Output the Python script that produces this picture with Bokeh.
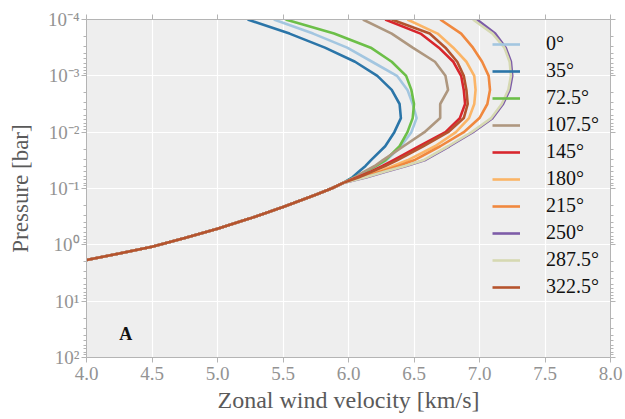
import numpy as np
from bokeh.plotting import figure
from bokeh.models import Range1d, FixedTicker, CustomJSTickFormatter, LinearAxis, LogAxis, Label
from bokeh.embed import file_html
from bokeh.resources import INLINE

# ---- data -------------------------------------------------------------
# log10 pressure [bar] of the upper levels, where the profiles differ
logp_upper = [-4.0, -3.75, -3.5, -3.25, -3.0, -2.75, -2.5, -2.25, -2.0, -1.75,
              -1.5, -1.4, -1.3, -1.2]
# log10 pressure [bar] of the deep levels, where all profiles coincide
logp_lower = [-1.1, -1.0, -0.89, -0.67, -0.47, -0.285, -0.12, 0.035, 0.155, 0.27]
v_lower = [5.96, 5.87, 5.75, 5.50, 5.25, 5.00, 4.75, 4.50, 4.25, 4.00]

longitudes = ["0°", "35°", "72.5°", "107.5°", "145°", "180°", "215°", "250°", "287.5°", "322.5°"]
colors = ["#a3c6e0", "#2b75a8", "#6cbf48", "#ae977f", "#d8262d",
          "#fbb466", "#f0883e", "#7d5ca8", "#d6d9b2", "#b5532d"]

# zonal wind velocity [km/s] at logp_upper, one list per longitude
v_0 = [5.43, 5.73, 5.99, 6.18, 6.37, 6.45, 6.49, 6.52, 6.48, 6.40, 6.29, 6.22, 6.15, 6.06]
v_35 = [5.23, 5.55, 5.82, 6.05, 6.22, 6.33, 6.39, 6.40, 6.35, 6.28, 6.17, 6.13, 6.08, 6.03]
v_72_5 = [5.52, 5.89, 6.17, 6.33, 6.44, 6.48, 6.50, 6.49, 6.45, 6.39, 6.28, 6.21, 6.13, 6.05]
v_107_5 = [6.11, 6.33, 6.49, 6.66, 6.74, 6.76, 6.70, 6.70, 6.58, 6.42, 6.26, 6.20, 6.12, 6.05]
v_145 = [6.28, 6.55, 6.69, 6.80, 6.86, 6.88, 6.89, 6.85, 6.74, 6.54, 6.34, 6.26, 6.17, 6.07]
v_180 = [6.45, 6.68, 6.80, 6.90, 6.96, 6.97, 6.96, 6.92, 6.82, 6.66, 6.45, 6.34, 6.23, 6.10]
v_215 = [6.70, 6.86, 6.95, 7.02, 7.07, 7.08, 7.06, 7.00, 6.88, 6.70, 6.50, 6.38, 6.25, 6.11]
v_250 = [6.98, 7.12, 7.20, 7.24, 7.25, 7.23, 7.18, 7.10, 6.95, 6.77, 6.58, 6.44, 6.29, 6.14]
v_287_5 = [6.95, 7.10, 7.19, 7.23, 7.24, 7.22, 7.17, 7.09, 6.94, 6.76, 6.57, 6.43, 6.28, 6.13]
v_322_5 = [6.33, 6.62, 6.74, 6.83, 6.88, 6.90, 6.91, 6.88, 6.76, 6.57, 6.37, 6.28, 6.18, 6.08]
upper_profiles = [v_0, v_35, v_72_5, v_107_5, v_145, v_180, v_215, v_250, v_287_5, v_322_5]

xtick_vals = [4.0, 4.5, 5.0, 5.5, 6.0, 6.5, 7.0, 7.5, 8.0]
xtick_labels = ["4.0", "4.5", "5.0", "5.5", "6.0", "6.5", "7.0", "7.5", "8.0"]
ytick_vals = [1e-4, 1e-3, 1e-2, 1e-1, 1e0, 1e1, 1e2]
ytick_labels = ["10⁻⁴", "10⁻³", "10⁻²", "10⁻¹", "10⁰", "10¹", "10²"]

# ---- style -------------------------------------------------------------
SERIF = "'Liberation Serif', serif"
SPINE = "#b4b4b4"
TICK_TEXT = "#939393"
LABEL_TEXT = "#5a5a5a"

p = figure(width=625, height=419,
           x_range=Range1d(4.0, 8.0), y_range=Range1d(1e2, 1e-4),
           y_axis_type="log",
           output_backend="svg", toolbar_location=None,
           min_border_left=86, min_border_right=15,
           min_border_top=19, min_border_bottom=62,
           background_fill_color="#eeeeee", border_fill_color="white",
           outline_line_color=None)

pressure = 10.0 ** np.array(logp_upper + logp_lower)
for label, color, v_up in zip(longitudes, colors, upper_profiles):
    p.line(x=v_up + v_lower, y=pressure, line_color=color, line_width=2.6,
           legend_label=label)

# tickers
x_ticker = FixedTicker(ticks=xtick_vals)
y_minor = [m * 10.0 ** e for e in range(-4, 2) for m in range(2, 10)]
y_ticker = FixedTicker(ticks=ytick_vals, minor_ticks=y_minor)

lookup_code = """
let best = 0, bd = Infinity;
for (let i = 0; i < vals.length; i++) {
    const d = LOGMODE ? Math.abs(Math.log10(vals[i]) - Math.log10(tick))
                      : Math.abs(vals[i] - tick);
    if (d < bd) { bd = d; best = i; }
}
return labs[best];
"""
x_fmt = CustomJSTickFormatter(args=dict(vals=xtick_vals, labs=xtick_labels),
                              code=lookup_code.replace("LOGMODE", "false"))
y_fmt = CustomJSTickFormatter(args=dict(vals=ytick_vals, labs=ytick_labels),
                              code=lookup_code.replace("LOGMODE", "true"))


def style_axis(ax):
    ax.axis_line_color = SPINE
    ax.major_tick_line_color = SPINE
    ax.minor_tick_line_color = SPINE
    ax.major_tick_out = 5
    ax.major_tick_in = 0
    ax.minor_tick_out = 3
    ax.minor_tick_in = 0


xa = p.xaxis[0]
xa.ticker = x_ticker
xa.formatter = x_fmt
style_axis(xa)
xa.minor_tick_line_color = None
xa.major_label_text_font = SERIF
xa.major_label_text_font_size = "19px"
xa.major_label_text_color = TICK_TEXT
xa.major_label_standoff = 4
xa.axis_label = "Zonal wind velocity [km/s]"
xa.axis_label_text_font = SERIF
xa.axis_label_text_font_style = "normal"
xa.axis_label_text_font_size = "24px"
xa.axis_label_text_color = LABEL_TEXT
xa.axis_label_standoff = 4

ya = p.yaxis[0]
ya.ticker = y_ticker
ya.formatter = y_fmt
style_axis(ya)
ya.major_label_text_font = SERIF
ya.major_label_text_font_size = "19px"
ya.major_label_text_color = TICK_TEXT
ya.major_label_standoff = 2
ya.axis_label = "Pressure [bar]"
ya.axis_label_text_font = SERIF
ya.axis_label_text_font_style = "normal"
ya.axis_label_text_font_size = "23px"
ya.axis_label_text_color = LABEL_TEXT
ya.axis_label_standoff = 12

# tick-only axes along the top and right edges of the frame
top = LinearAxis(ticker=x_ticker, major_label_text_font_size="1px",
                 major_label_text_color=None, major_label_standoff=0)
style_axis(top)
top.minor_tick_line_color = None
p.add_layout(top, "above")

right = LogAxis(ticker=y_ticker, major_label_text_font_size="1px",
                major_label_text_color=None, major_label_standoff=0)
style_axis(right)
p.add_layout(right, "right")

p.xgrid.ticker = x_ticker
p.ygrid.ticker = y_ticker
p.xgrid.grid_line_color = "white"
p.ygrid.grid_line_color = "white"
p.xgrid.grid_line_width = 1.2
p.ygrid.grid_line_width = 1.2

lg = p.legend[0]
lg.location = (406, 59)
lg.border_line_color = None
lg.background_fill_alpha = 0
lg.padding = 0
lg.margin = 0
lg.spacing = 4
lg.glyph_width = 28
lg.glyph_height = 20
lg.label_height = 20
lg.label_standoff = 26
lg.label_text_font = SERIF
lg.label_text_font_size = "20px"
lg.label_text_color = "#111111"

p.add_layout(Label(x=4.30, y=39.0, text="A", text_font=SERIF, text_font_style="bold",
                   text_font_size="18px", text_color="#111111",
                   text_align="center", text_baseline="middle"))

open("out.html", "w").write(file_html(p, INLINE))
